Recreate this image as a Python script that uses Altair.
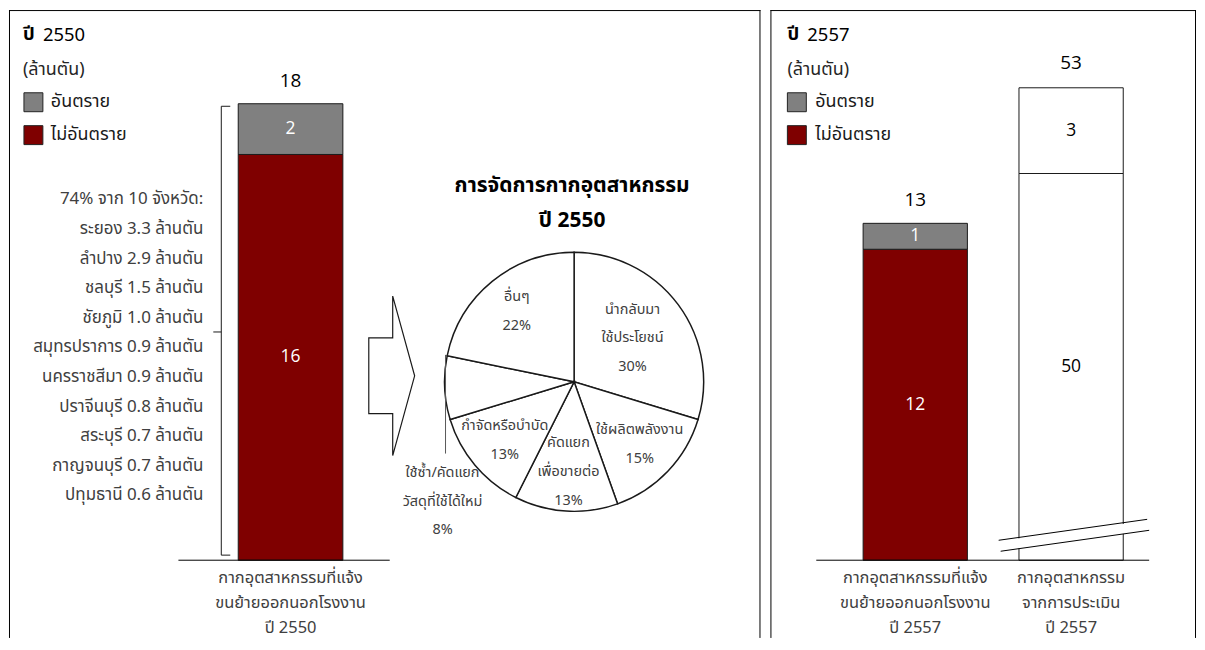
import altair as alt
import pandas as pd

# ---------------- data ----------------
kinds = ["อันตราย", "ไม่อันตราย"]
kind_colors = ["#808080", "#7f0000"]

cat_2550 = ["กากอุตสาหกรรมที่แจ้ง\nขนย้ายออกนอกโรงงาน\nปี 2550"]
haz_2550 = [2]
nonhaz_2550 = [16]

cat_2557 = ["กากอุตสาหกรรมที่แจ้ง\nขนย้ายออกนอกโรงงาน\nปี 2557",
            "กากอุตสาหกรรม\nจากการประเมิน\nปี 2557"]
haz_2557 = [1, 3]
nonhaz_2557 = [12, 50]

provinces = ["ระยอง", "ลำปาง", "ชลบุรี", "ชัยภูมิ", "สมุทรปราการ",
             "นครราชสีมา", "ปราจีนบุรี", "สระบุรี", "กาญจนบุรี", "ปทุมธานี"]
province_amounts = [3.3, 2.9, 1.5, 1.0, 0.9, 0.9, 0.8, 0.7, 0.7, 0.6]
top10_share = 74

pie_names = ["นำกลับมา\nใช้ประโยชน์", "ใช้ผลิตพลังงาน", "คัดแยก\nเพื่อขายต่อ",
             "กำจัดหรือบำบัด", "ใช้ซ้ำ/คัดแยก\nวัสดุที่ใช้ได้ใหม่", "อื่นๆ"]
pie_pct = [30, 15, 13, 13, 8, 22]

# ---------------- styling ----------------
FONT_TH = "Tahoma, Noto Sans Thai, Noto Sans, DejaVu Sans, sans-serif"
FONT_NUM = "Open Sans"
GRAY_TXT = "#404040"
H = 630
W_L = 754
W_R = 427
SPACING = 8

one = pd.DataFrame({"k": [0]})


def txt(s, x, y, size, color="black", align="left", weight="normal",
        font=FONT_TH, lh=None):
    props = dict(align=align, baseline="middle", fontSize=size, font=font,
                 fontWeight=weight, color=color, lineBreak="\n")
    if lh:
        props["lineHeight"] = lh
    return alt.Chart(one).mark_text(**props).encode(
        x=alt.value(x), y=alt.value(y), text=alt.value(s))


def rule(x, y, x2, y2, color="black", w=1.0):
    return alt.Chart(one).mark_rule(color=color, strokeWidth=w).encode(
        x=alt.value(x), y=alt.value(y), x2=alt.value(x2), y2=alt.value(y2))


def stack_rows(cats, haz, non):
    rows = []
    for c, h, n in zip(cats, haz, non):
        rows.append(dict(cat=c, kind=kinds[1], start=0, end=n, value=n,
                         mid=n / 2, total=h + n))
        rows.append(dict(cat=c, kind=kinds[0], start=n, end=n + h, value=h,
                         mid=n + h / 2, total=h + n))
    return pd.DataFrame(rows)


def totals(cats, haz, non):
    return pd.DataFrame({"cat": cats, "total": [h + n for h, n in zip(haz, non)]})


color_scale = alt.Scale(domain=kinds, range=kind_colors)


def legend(xs, xt, ys):
    layers = []
    for k, c, y in zip(kinds, kind_colors, ys):
        layers.append(alt.Chart(one).mark_square(size=361, stroke="#222222", strokeWidth=1,
                                                 opacity=1)
                      .encode(x=alt.value(xs), y=alt.value(y), fill=alt.value(c)))
        layers.append(txt(k, xt, y, 18, color="#1a1a1a"))
    return layers


def bar_layers(df, tot, X, Y, seg_color, fill_by_kind=True, total_dy=-23):
    if fill_by_kind:
        bars = alt.Chart(df).mark_bar(stroke="#1a1a1a", strokeWidth=1).encode(
            x=alt.X("cat:N", scale=X, axis=None),
            y=alt.Y("end:Q", scale=Y, axis=None), y2="start:Q",
            color=alt.Color("kind:N", scale=color_scale, legend=None))
    else:
        bars = alt.Chart(df).mark_bar(stroke="#1a1a1a", strokeWidth=1, fill="white").encode(
            x=alt.X("cat:N", scale=X, axis=None),
            y=alt.Y("end:Q", scale=Y, axis=None), y2="start:Q")
    seg = alt.Chart(df).mark_text(color=seg_color, fontSize=17.5, font=FONT_NUM,
                                  baseline="middle").encode(
        x=alt.X("cat:N", scale=X, axis=None),
        y=alt.Y("mid:Q", scale=Y, axis=None), text="value:Q")
    tl = alt.Chart(tot).mark_text(color="black", fontSize=19, font=FONT_NUM,
                                  baseline="middle", dy=total_dy).encode(
        x=alt.X("cat:N", scale=X, axis=None),
        y=alt.Y("total:Q", scale=Y, axis=None), text="total:Q")
    return [bars, seg, tl]


def cat_labels(tot, X):
    return alt.Chart(tot).mark_text(lineBreak="\n", lineHeight=25, fontSize=16.5,
                                    font=FONT_TH, color=GRAY_TXT, baseline="middle").encode(
        x=alt.X("cat:N", scale=X, axis=None), y=alt.value(570), text="cat:N")


# ---------------- left panel ----------------
df_l = stack_rows(cat_2550, haz_2550, nonhaz_2550)
tot_l = totals(cat_2550, haz_2550, nonhaz_2550)
X_L = alt.Scale(domain=cat_2550, range=[230, 335], paddingInner=0, paddingOuter=0)
Y_L = alt.Scale(domain=[0, 18], range=[552, 94], nice=False)
total_l = tot_l["total"].iloc[0]

prov_lines = [f"{top10_share}% จาก {len(provinces)} จังหวัด:"] + \
    [f"{p} {a:.1f} ล้านตัน" for p, a in zip(provinces, province_amounts)]

brace = [
    alt.Chart(one).mark_rule(color="#1a1a1a").encode(
        x=alt.value(213), y=alt.YDatum(total_l - 0.1, scale=Y_L, axis=None),
        y2=alt.Y2Datum(0.2)),
    alt.Chart(one).mark_rule(color="#1a1a1a").encode(
        x=alt.value(213), x2=alt.value(222), y=alt.YDatum(total_l - 0.1, scale=Y_L, axis=None)),
    alt.Chart(one).mark_rule(color="#1a1a1a").encode(
        x=alt.value(213), x2=alt.value(222), y=alt.YDatum(0.2, scale=Y_L, axis=None)),
    alt.Chart(one).mark_rule(color="#1a1a1a").encode(
        x=alt.value(205), x2=alt.value(213), y=alt.YDatum(total_l / 2, scale=Y_L, axis=None)),
]

pie_df = pd.DataFrame({
    "idx": list(range(len(pie_names))),
    "name": pie_names,
    "pct": pie_pct,
    "label": [f"{n}\n{p}%" for n, p in zip(pie_names, pie_pct)],
})
PCX, PCY = 567, 373
PIE_LH = 29

pie_arc = alt.Chart(pie_df).mark_arc(radius=130, fill="white", stroke="#1a1a1a",
                                     strokeWidth=1.5).encode(
    theta=alt.Theta("pct:Q", stack=True), order=alt.Order("idx:Q"),
    x=alt.value(PCX), y=alt.value(PCY))


def pie_text(expr, r, dy):
    return alt.Chart(pie_df).transform_calculate(t=expr).mark_text(
        radius=r, lineBreak="\n", lineHeight=PIE_LH, fontSize=14.5, font=FONT_TH,
        color=GRAY_TXT, baseline="middle", dy=dy).encode(
        theta=alt.Theta("pct:Q", stack=True), order=alt.Order("idx:Q"),
        x=alt.value(PCX), y=alt.value(PCY), text="t:N")


pie_t1 = pie_text("datum.idx == 0 ? datum.label : ''", 73, -PIE_LH)
pie_t2 = pie_text("datum.idx == 2 ? datum.label : ''", 91, -PIE_LH)
pie_t3 = pie_text("(datum.idx == 1 || datum.idx == 3 || datum.idx == 5) ? datum.label : ''",
                  91, -PIE_LH / 2)
pie_out = alt.Chart(pie_df).transform_filter("datum.idx == 4").mark_text(
    lineBreak="\n", lineHeight=28.5, fontSize=14.5, font=FONT_TH, color=GRAY_TXT,
    baseline="middle").encode(x=alt.value(435), y=alt.value(465), text="label:N")

arrow_path = ("M-0.2875,-0.475 L0.0125,-0.475 L0.0125,-1 L0.2875,0 L0.0125,1 "
              "L0.0125,0.475 L-0.2875,0.475 Z")
arrow = alt.Chart(one).mark_point(shape=arrow_path, size=25600, filled=False,
                                  stroke="#1a1a1a", strokeWidth=1.2, opacity=1).encode(
    x=alt.value(384), y=alt.value(367))

left_layers = [
    rule(0, 0.5, W_L, 0.5), rule(0.5, 0, 0.5, H), rule(W_L - 0.5, 0, W_L - 0.5, H),
    txt("ปี", 14, 24, 18.5, weight="bold"),
    txt("2550", 34, 25, 18.5),
    txt("(ล้านตัน)", 14, 60, 18, color="#262626"),
    *legend(24.5, 42, [92.5, 125.5]),
    txt("\n".join(prov_lines), 195, 190, 17, color=GRAY_TXT, align="right", lh=29.7),
    *brace,
    *bar_layers(df_l, tot_l, X_L, Y_L, "white"),
    rule(170, 552, 382, 552),
    cat_labels(tot_l, X_L),
    arrow,
    txt("การจัดการกากอุตสาหกรรม\nปี 2550", 565, 177, 21, weight="bold",
        align="center", lh=35),
    pie_arc, pie_t1, pie_t2, pie_t3,
    rule(438, 346, 438, 445, color="#595959"),
    pie_out,
]
left = alt.layer(*left_layers).properties(width=W_L, height=H)

# ---------------- right panel ----------------
df_r = stack_rows(cat_2557, haz_2557, nonhaz_2557)
tot_r = totals(cat_2557, haz_2557, nonhaz_2557)
df_rep = df_r[df_r["cat"] == cat_2557[0]]
df_ass = df_r[df_r["cat"] == cat_2557[1]]
tot_rep = tot_r[tot_r["cat"] == cat_2557[0]]
tot_ass = tot_r[tot_r["cat"] == cat_2557[1]]

X_R = alt.Scale(domain=cat_2557, range=[93, 354], paddingInner=0.331, paddingOuter=0)
Y_A = alt.Scale(domain=[0, 13], range=[552, 214], nice=False)
Y_B = alt.Scale(domain=[0, 50, 53], range=[552, 164, 78], nice=False)

right_layers = [
    rule(0, 0.5, W_R, 0.5), rule(0.5, 0, 0.5, H), rule(W_R - 0.5, 0, W_R - 0.5, H),
    txt("ปี", 17, 24, 18.5, weight="bold"),
    txt("2557", 37, 25, 18.5),
    txt("(ล้านตัน)", 17, 60, 18, color="#262626"),
    *legend(26.5, 45, [92.5, 125.5]),
    *bar_layers(df_rep, tot_rep, X_R, Y_A, "white"),
    *bar_layers(df_ass, tot_ass, X_R, Y_B, "black", fill_by_kind=False, total_dy=-25),
    rule(228, 538, 380, 517, color="white", w=10),
    rule(229, 532, 378, 511),
    rule(231, 543, 380, 522),
    rule(46, 552, 380, 552),
    cat_labels(tot_r, X_R),
]
right = alt.layer(*right_layers).resolve_scale(y="independent").properties(
    width=W_R, height=H)

chart = alt.hconcat(
    left, right, spacing=SPACING,
    padding={"left": 0, "top": 0, "right": 0, "bottom": 0},
).properties(background="white").configure_view(strokeWidth=0)

chart.save("out.html", embed_options={"renderer": "svg", "actions": False})
